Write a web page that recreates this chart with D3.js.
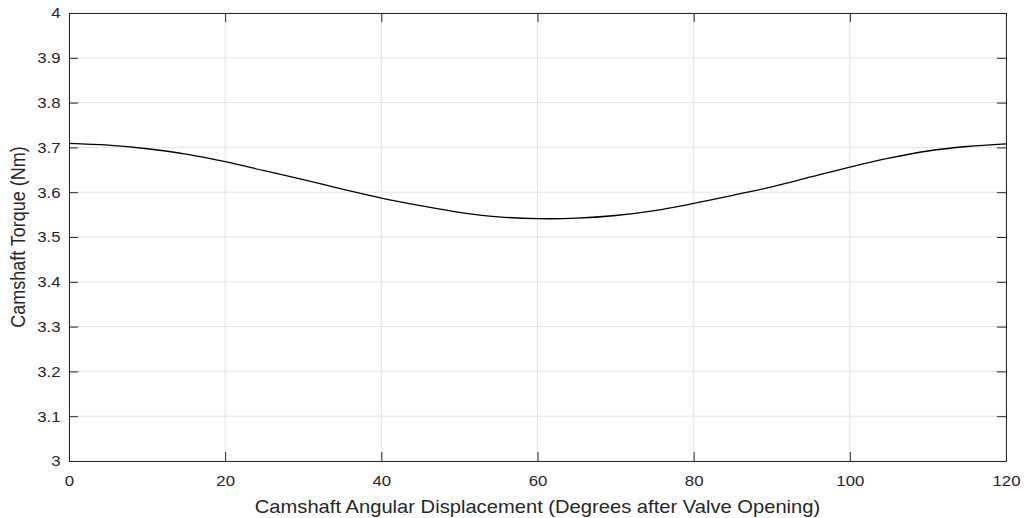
<!DOCTYPE html>
<html>
<head>
<meta charset="utf-8">
<script src="https://cdn.jsdelivr.net/npm/d3@7"></script>
<style>
  body { margin: 0; background: #fff; }
  text { font-family: "Liberation Sans", Arial, sans-serif; fill: #262626; }
</style>
</head>
<body>
<div id="chart"></div>
<script>
// data
let ANGLE = [0, 5, 10, 15, 20, 25, 30, 35, 40, 45, 50, 55, 60, 65, 70, 75, 80, 85, 90, 95, 100, 105, 110, 115, 120]
let TORQUE = [3.709, 3.705, 3.697, 3.685, 3.668, 3.648, 3.628, 3.607, 3.587, 3.570, 3.555, 3.545, 3.541, 3.542, 3.548, 3.559, 3.575, 3.593, 3.612, 3.634, 3.656, 3.676, 3.692, 3.702, 3.708]
let X_TICKS = [0, 20, 40, 60, 80, 100, 120]
let Y_TICKS = [3, 3.1, 3.2, 3.3, 3.4, 3.5, 3.6, 3.7, 3.8, 3.9, 4]

let width = 1024, height = 518
let margin = { left: 69, right: 18, top: 13, bottom: 57 }
let innerW = width - margin.left - margin.right
let innerH = height - margin.top - margin.bottom
let STRETCH = 1.12 // the source picture looks a bit wider than tall

let svg = d3.select("#chart")
    .append("svg")
    .attr("width", width)
    .attr("height", height)

let g = svg.append("g")
    .attr("transform", "translate(" + margin.left + "," + margin.top + ")")

let x = d3.scaleLinear().domain([0, 120]).range([0, innerW])
let y = d3.scaleLinear().domain([3, 4]).range([innerH, 0])

// grid
g.append("g").selectAll("line")
    .data(X_TICKS)
    .enter()
    .append("line")
    .attr("x1", function (d) { return x(d) }).attr("x2", function (d) { return x(d) })
    .attr("y1", 0).attr("y2", innerH)
    .attr("stroke", "#e3e3e3")
g.append("g").selectAll("line")
    .data(Y_TICKS)
    .enter()
    .append("line")
    .attr("y1", function (d) { return y(d) }).attr("y2", function (d) { return y(d) })
    .attr("x1", 0).attr("x2", innerW)
    .attr("stroke", "#e3e3e3")

// axes, ticks inside like matlab
let fmt = function (d) { return d3.format("~g")(d) }
let xAxis = g.append("g")
    .attr("transform", "translate(0," + innerH + ")")
    .call(d3.axisBottom(x).tickValues(X_TICKS).tickSizeInner(-9).tickSizeOuter(0).tickFormat(fmt))
let yAxis = g.append("g")
    .call(d3.axisLeft(y).tickValues(Y_TICKS).tickSizeInner(-9).tickSizeOuter(0).tickFormat(fmt))
let xTop = g.append("g")
    .call(d3.axisTop(x).tickValues(X_TICKS).tickSizeInner(-9).tickSizeOuter(0).tickFormat(""))
let yRight = g.append("g")
    .attr("transform", "translate(" + innerW + ",0)")
    .call(d3.axisRight(y).tickValues(Y_TICKS).tickSizeInner(-9).tickSizeOuter(0).tickFormat(""))

g.selectAll(".domain").attr("stroke", "#262626")
g.selectAll(".tick line").attr("stroke", "#262626")
g.selectAll(".tick text").style("font-size", "15px").style("fill", "#262626")
xAxis.selectAll(".tick text")
    .attr("dy", "0.71em").attr("y", 14)
    .attr("transform", "scale(" + STRETCH + ",1)")
yAxis.selectAll(".tick text")
    .attr("x", -8.5 / STRETCH)
    .attr("transform", "scale(" + STRETCH + ",1)")

// the curve
let line = d3.line()
    .x(function (d, i) { return x(ANGLE[i]) })
    .y(function (d) { return y(d) })
    .curve(d3.curveCatmullRom)
g.append("path")
    .datum(TORQUE)
    .attr("d", line)
    .attr("fill", "none")
    .attr("stroke", "#000")
    .attr("stroke-width", 1.3)

// labels
svg.append("text")
    .attr("transform", "translate(" + (margin.left + innerW / 2) + ",513) scale(" + STRETCH + ",1)")
    .attr("text-anchor", "middle")
    .style("font-size", "18px")
    .text("Camshaft Angular Displacement (Degrees after Valve Opening)")
svg.append("text")
    .attr("transform", "translate(25," + (margin.top + innerH / 2) + ") scale(" + STRETCH + ",1) rotate(-90)")
    .attr("text-anchor", "middle")
    .style("font-size", "18px")
    .text("Camshaft Torque (Nm)")
</script>
</body>
</html>
